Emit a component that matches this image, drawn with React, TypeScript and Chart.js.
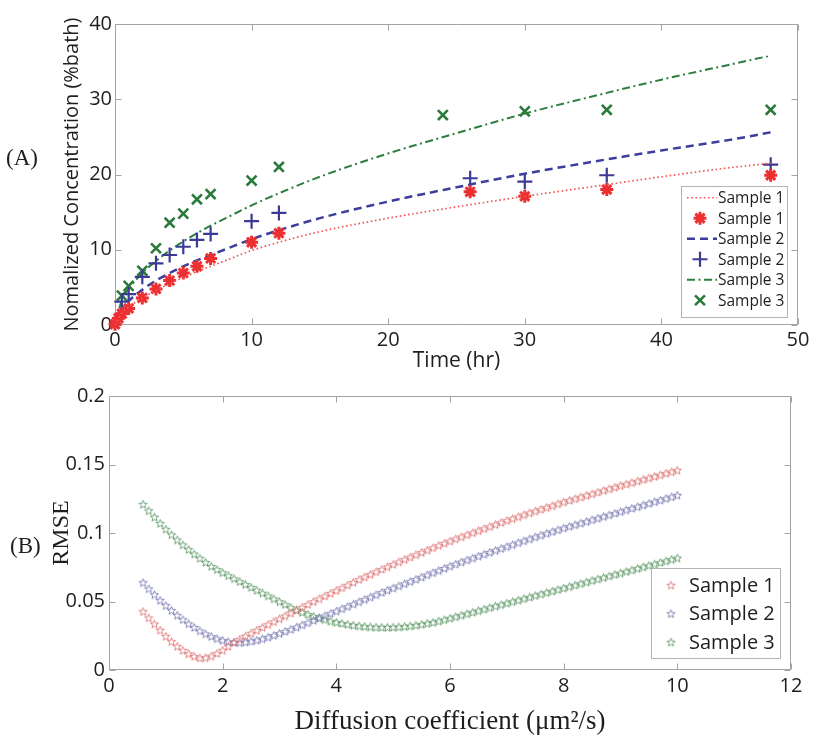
import React, { useEffect, useRef } from 'react';
import { Chart, registerables } from 'chart.js';
Chart.register(...registerables);

// ---------------- DATA: panel (A) ----------------
const fitTime = [0, 0.5, 1, 2, 3, 4, 5, 6, 7, 8, 10, 12, 15, 20, 25, 30, 35, 40, 45, 48];
const fitSample1 = [0, 1.6, 2.4, 3.6, 4.6, 5.5, 6.3, 7.1, 7.8, 8.5, 9.9, 11.0, 12.4, 14.2, 15.7, 17.1, 18.4, 19.7, 20.9, 21.5];
const fitSample2 = [0, 2.2, 3.2, 4.7, 5.9, 6.9, 7.8, 8.6, 9.3, 10.0, 11.4, 12.6, 14.2, 16.4, 18.3, 20.1, 21.7, 23.2, 24.6, 25.6];
const fitSample3 = [0, 3.3, 4.8, 6.9, 8.5, 9.9, 11.1, 12.2, 13.2, 14.1, 15.9, 17.5, 19.7, 22.8, 25.5, 28.1, 30.4, 32.6, 34.6, 35.8];

const timeSample1 = [0, 0.25, 0.5, 1, 2, 3, 4, 5, 6, 7, 10, 12, 26, 30, 36, 48];
const concSample1 = [0.1, 0.9, 1.5, 2.2, 3.6, 4.8, 5.9, 6.9, 7.8, 8.85, 11.0, 12.2, 17.7, 17.1, 18.0, 19.9];
const timeSample2 = [0.5, 1, 2, 3, 4, 5, 6, 7, 10, 12, 26, 30, 36, 48];
const concSample2 = [3.1, 4.1, 6.4, 8.2, 9.3, 10.4, 11.3, 12.1, 13.8, 14.9, 19.5, 19.05, 19.9, 21.3];
const timeSample3 = [0.5, 1, 2, 3, 4, 5, 6, 7, 10, 12, 24, 30, 36, 48];
const concSample3 = [3.9, 5.2, 7.2, 10.2, 13.6, 14.8, 16.7, 17.4, 19.2, 21.0, 27.9, 28.4, 28.6, 28.6];

// ---------------- DATA: panel (B) ----------------
const diffusion = [
  0.6, 0.7, 0.8, 0.9,
  1.0, 1.1, 1.2, 1.3, 1.4, 1.5, 1.6, 1.7, 1.8, 1.9,
  2.0, 2.1, 2.2, 2.3, 2.4, 2.5, 2.6, 2.7, 2.8, 2.9,
  3.0, 3.1, 3.2, 3.3, 3.4, 3.5, 3.6, 3.7, 3.8, 3.9,
  4.0, 4.1, 4.2, 4.3, 4.4, 4.5, 4.6, 4.7, 4.8, 4.9,
  5.0, 5.1, 5.2, 5.3, 5.4, 5.5, 5.6, 5.7, 5.8, 5.9,
  6.0, 6.1, 6.2, 6.3, 6.4, 6.5, 6.6, 6.7, 6.8, 6.9,
  7.0, 7.1, 7.2, 7.3, 7.4, 7.5, 7.6, 7.7, 7.8, 7.9,
  8.0, 8.1, 8.2, 8.3, 8.4, 8.5, 8.6, 8.7, 8.8, 8.9,
  9.0, 9.1, 9.2, 9.3, 9.4, 9.5, 9.6, 9.7, 9.8, 9.9,
  10.0,
];
const rmseSample1 = [
  0.0426, 0.0380, 0.0335, 0.0290,
  0.0245, 0.0207, 0.0172, 0.0143, 0.0118, 0.0099, 0.0087, 0.0089, 0.0101, 0.0120,
  0.0144, 0.0172, 0.0201, 0.0224, 0.0246, 0.0268, 0.0289, 0.0310, 0.0331, 0.0352,
  0.0373, 0.0394, 0.0415, 0.0436, 0.0457, 0.0478, 0.0499, 0.0519, 0.0539, 0.0559,
  0.0579, 0.0599, 0.0619, 0.0639, 0.0659, 0.0678, 0.0697, 0.0716, 0.0734, 0.0752,
  0.0770, 0.0788, 0.0806, 0.0823, 0.0840, 0.0857, 0.0874, 0.0891, 0.0908, 0.0924,
  0.0940, 0.0956, 0.0971, 0.0986, 0.1001, 0.1016, 0.1031, 0.1046, 0.1061, 0.1076,
  0.1090, 0.1104, 0.1118, 0.1132, 0.1146, 0.1159, 0.1172, 0.1185, 0.1198, 0.1212,
  0.1225, 0.1237, 0.1249, 0.1261, 0.1273, 0.1285, 0.1297, 0.1309, 0.1321, 0.1333,
  0.1345, 0.1356, 0.1367, 0.1378, 0.1390, 0.1401, 0.1412, 0.1423, 0.1435, 0.1446,
  0.1458,
];
const rmseSample2 = [
  0.0637, 0.0592, 0.0549, 0.0508,
  0.0470, 0.0434, 0.0399, 0.0367, 0.0337, 0.0310, 0.0285, 0.0263, 0.0244, 0.0228,
  0.0215, 0.0206, 0.0201, 0.0200, 0.0203, 0.0209, 0.0217, 0.0227, 0.0239, 0.0252,
  0.0266, 0.0281, 0.0296, 0.0312, 0.0328, 0.0344, 0.0361, 0.0378, 0.0395, 0.0412,
  0.0429, 0.0446, 0.0463, 0.0480, 0.0497, 0.0514, 0.0531, 0.0548, 0.0565, 0.0581,
  0.0597, 0.0613, 0.0629, 0.0645, 0.0661, 0.0677, 0.0693, 0.0709, 0.0725, 0.0741,
  0.0757, 0.0772, 0.0787, 0.0802, 0.0816, 0.0830, 0.0844, 0.0858, 0.0872, 0.0886,
  0.0900, 0.0914, 0.0928, 0.0942, 0.0956, 0.0970, 0.0983, 0.0996, 0.1009, 0.1022,
  0.1035, 0.1047, 0.1059, 0.1071, 0.1083, 0.1095, 0.1107, 0.1119, 0.1131, 0.1143,
  0.1155, 0.1167, 0.1179, 0.1191, 0.1203, 0.1215, 0.1227, 0.1239, 0.1251, 0.1263,
  0.1275,
];
const rmseSample3 = [
  0.1209, 0.1162, 0.1115, 0.1070,
  0.1027, 0.0987, 0.0949, 0.0913, 0.0879, 0.0846, 0.0815, 0.0785, 0.0756, 0.0733,
  0.0710, 0.0688, 0.0666, 0.0645, 0.0624, 0.0603, 0.0582, 0.0561, 0.0540, 0.0519,
  0.0498, 0.0477, 0.0456, 0.0436, 0.0420, 0.0405, 0.0391, 0.0379, 0.0367, 0.0356,
  0.0347, 0.0339, 0.0332, 0.0326, 0.0321, 0.0317, 0.0314, 0.0312, 0.0311, 0.0311,
  0.0312, 0.0314, 0.0317, 0.0321, 0.0326, 0.0332, 0.0339, 0.0347, 0.0356, 0.0366,
  0.0377, 0.0388, 0.0399, 0.0410, 0.0421, 0.0432, 0.0443, 0.0454, 0.0465, 0.0476,
  0.0487, 0.0498, 0.0509, 0.0520, 0.0531, 0.0542, 0.0553, 0.0564, 0.0575, 0.0586,
  0.0597, 0.0608, 0.0619, 0.0630, 0.0641, 0.0652, 0.0663, 0.0674, 0.0685, 0.0696,
  0.0707, 0.0718, 0.0729, 0.0740, 0.0751, 0.0762, 0.0773, 0.0784, 0.0795, 0.0806,
  0.0817,
];

const seriesLabels = ['Sample 1', 'Sample 2', 'Sample 3'];

// ---------------- STYLE ----------------
const SANS = '"Open Sans", "Noto Sans", sans-serif';
const SERIF = '"Liberation Serif", "Times New Roman", serif';
const TEXT = '#1e1e1e';
const FRAME = '#a3a3a3';

const pts = (xs: number[], ys: number[]) => xs.map((x, i) => ({ x, y: ys[i] }));
const trimNum = (v: any) => String(parseFloat(Number(v).toFixed(4)));

function makePentagram(color: string) {
  const c = document.createElement('canvas');
  c.width = 11;
  c.height = 11;
  const g = c.getContext('2d')!;
  g.strokeStyle = color;
  g.lineWidth = 0.9;
  g.beginPath();
  for (let i = 0; i < 10; i++) {
    const r = i % 2 === 0 ? 4.3 : 1.85;
    const a = -Math.PI / 2 + (i * Math.PI) / 5;
    const px = 5.5 + r * Math.cos(a);
    const py = 5.8 + r * Math.sin(a);
    if (i === 0) g.moveTo(px, py);
    else g.lineTo(px, py);
  }
  g.closePath();
  g.stroke();
  return c;
}

function drawMarker(ctx: CanvasRenderingContext2D, style: any, x: number, y: number, r: number, color: string, lw: number) {
  ctx.save();
  if (style && typeof style !== 'string') {
    ctx.drawImage(style, x - style.width / 2, y - style.height / 2);
    ctx.restore();
    return;
  }
  ctx.strokeStyle = color;
  ctx.lineWidth = lw;
  ctx.setLineDash([]);
  ctx.beginPath();
  if (style === 'cross' || style === 'star') {
    ctx.moveTo(x - r, y);
    ctx.lineTo(x + r, y);
    ctx.moveTo(x, y - r);
    ctx.lineTo(x, y + r);
  }
  if (style === 'crossRot' || style === 'star') {
    const d = r * Math.SQRT1_2;
    ctx.moveTo(x - d, y - d);
    ctx.lineTo(x + d, y + d);
    ctx.moveTo(x - d, y + d);
    ctx.lineTo(x + d, y - d);
  }
  ctx.stroke();
  ctx.restore();
}

function makeFramePlugin(tickLen: number) {
  return {
    id: 'frameTicks',
    beforeDatasetsDraw(chart: any) {
      const { ctx, chartArea } = chart;
      const { left, top, right, bottom } = chartArea;
      const xs = chart.scales.x;
      const ys = chart.scales.y;
      ctx.save();
      ctx.strokeStyle = FRAME;
      ctx.lineWidth = 1;
      ctx.beginPath();
      const L = Math.round(left) + 0.5, R = Math.round(right) - 0.5;
      const T = Math.round(top) + 0.5, B = Math.round(bottom) - 0.5;
      ctx.rect(L, T, R - L, B - T);
      xs.ticks.forEach((t: any) => {
        const px = Math.round(xs.getPixelForValue(t.value)) + 0.5;
        ctx.moveTo(px, B);
        ctx.lineTo(px, B - tickLen);
        ctx.moveTo(px, T);
        ctx.lineTo(px, T + tickLen);
      });
      ys.ticks.forEach((t: any) => {
        const py = Math.round(ys.getPixelForValue(t.value)) + 0.5;
        ctx.moveTo(L, py);
        ctx.lineTo(L + tickLen, py);
        ctx.moveTo(R, py);
        ctx.lineTo(R - tickLen, py);
      });
      ctx.stroke();
      ctx.restore();
    },
  };
}

function makeLegendPlugin(cfg: any) {
  return {
    id: 'boxLegend',
    afterDraw(chart: any) {
      const { ctx, chartArea } = chart;
      const n = cfg.items.length;
      const h = cfg.padTop + n * cfg.rowH + cfg.padBottom;
      const x0 = Math.round(chartArea.right - cfg.marginRight - cfg.width);
      const y0 = Math.round(chartArea.bottom - cfg.marginBottom - h);
      ctx.save();
      ctx.fillStyle = '#ffffff';
      ctx.fillRect(x0, y0, cfg.width, h);
      ctx.strokeStyle = '#b4b4b4';
      ctx.lineWidth = 1;
      ctx.strokeRect(x0 + 0.5, y0 + 0.5, cfg.width, Math.round(h));
      ctx.font = `${cfg.fontSize}px ${SANS}`;
      ctx.textBaseline = 'middle';
      ctx.textAlign = 'left';
      cfg.items.forEach((dsIndex: number, i: number) => {
        const ds = chart.data.datasets[dsIndex];
        const cy = y0 + cfg.padTop + cfg.rowH * (i + 0.5);
        if (ds.showLine) {
          ctx.save();
          ctx.strokeStyle = ds.borderColor;
          ctx.lineWidth = ds.borderWidth;
          ctx.setLineDash(ds.borderDash || []);
          ctx.beginPath();
          ctx.moveTo(x0 + cfg.lineX1, cy);
          ctx.lineTo(x0 + cfg.lineX2, cy);
          ctx.stroke();
          ctx.restore();
        } else {
          drawMarker(ctx, ds.pointStyle, x0 + cfg.markerX, cy, ds.pointRadius, ds.borderColor, ds.borderWidth);
        }
        ctx.fillStyle = TEXT;
        ctx.fillText(ds.label, x0 + cfg.textX, cy + 1);
      });
      ctx.restore();
    },
  };
}

function ChartA() {
  const ref = useRef<HTMLCanvasElement>(null);
  useEffect(() => {
    const RED = '#ec2f30', RED_L = '#f25656';
    const BLUE = '#3b3b95', BLUE_L = '#3d3d9c';
    const GREEN = '#2a7a3c', GREEN_L = '#2f7d40';
    const chart = new Chart(ref.current!, {
      type: 'scatter',
      data: {
        datasets: [
          { label: seriesLabels[0], data: pts(fitTime, fitSample1), showLine: true, borderColor: RED_L, borderWidth: 1.7, borderDash: [1.6, 2.6], pointRadius: 0, cubicInterpolationMode: 'monotone' } as any,
          { label: seriesLabels[0], data: pts(timeSample1, concSample1), pointStyle: 'star', pointRadius: 6.5, borderColor: RED, backgroundColor: RED, borderWidth: 3, clip: false } as any,
          { label: seriesLabels[1], data: pts(fitTime, fitSample2), showLine: true, borderColor: BLUE_L, borderWidth: 2.5, borderDash: [8, 5], pointRadius: 0, cubicInterpolationMode: 'monotone' } as any,
          { label: seriesLabels[1], data: pts(timeSample2, concSample2), pointStyle: 'cross', pointRadius: 7.5, borderColor: BLUE, backgroundColor: BLUE, borderWidth: 2.2, clip: false } as any,
          { label: seriesLabels[2], data: pts(fitTime, fitSample3), showLine: true, borderColor: GREEN_L, borderWidth: 2, borderDash: [8, 3.5, 2, 3.5], pointRadius: 0, cubicInterpolationMode: 'monotone' } as any,
          { label: seriesLabels[2], data: pts(timeSample3, concSample3), pointStyle: 'crossRot', pointRadius: 7, borderColor: GREEN, backgroundColor: GREEN, borderWidth: 2.6, clip: false } as any,
        ],
      },
      options: {
        animation: false,
        responsive: false,
        events: [],
        layout: { padding: { top: 24, right: 16, left: 0, bottom: 0 } },
        plugins: { legend: { display: false }, tooltip: { enabled: false } },
        scales: {
          x: {
            type: 'linear', min: 0, max: 50,
            grid: { display: false, drawTicks: false }, border: { display: false },
            ticks: { stepSize: 10, padding: 3, color: TEXT, font: { family: SANS, size: 20 }, maxRotation: 0 },
            title: { display: true, text: 'Time (hr)', color: TEXT, font: { family: SANS, size: 21 }, padding: 0 },
            afterFit: (s: any) => { s.height = 49; },
          },
          y: {
            type: 'linear', min: 0, max: 40,
            grid: { display: false, drawTicks: false }, border: { display: false },
            ticks: { stepSize: 10, padding: 3, color: TEXT, font: { family: SANS, size: 20 } },
            title: { display: true, text: 'Nomalized Concentration (%bath)', color: TEXT, font: { family: SANS, size: 20 }, padding: { top: 60, bottom: 0 } },
            afterFit: (s: any) => { s.width = 115; },
          },
        },
      } as any,
      plugins: [
        makeFramePlugin(6),
        makeLegendPlugin({ items: [0, 1, 2, 3, 4, 5], width: 106, rowH: 20.5, padTop: 1.5, padBottom: 6.5, marginRight: 11, marginBottom: 8, lineX1: 6, lineX2: 36, markerX: 19, textX: 37, fontSize: 15.5 }),
      ],
    });
    return () => chart.destroy();
  }, []);
  return <canvas ref={ref} width={814} height={374} style={{ position: 'absolute', left: 0, top: 0, display: 'block' }} />;
}

function ChartB() {
  const ref = useRef<HTMLCanvasElement>(null);
  useEffect(() => {
    const s1 = makePentagram('#e07474');
    const s2 = makePentagram('#7a7ab4');
    const s3 = makePentagram('#5f9a68');
    const chart = new Chart(ref.current!, {
      type: 'scatter',
      data: {
        datasets: [
          { label: seriesLabels[0], data: pts(diffusion, rmseSample1), pointStyle: s1, pointRadius: 4, borderColor: '#e07474', borderWidth: 1, clip: false } as any,
          { label: seriesLabels[1], data: pts(diffusion, rmseSample2), pointStyle: s2, pointRadius: 4, borderColor: '#7a7ab4', borderWidth: 1, clip: false } as any,
          { label: seriesLabels[2], data: pts(diffusion, rmseSample3), pointStyle: s3, pointRadius: 4, borderColor: '#5f9a68', borderWidth: 1, clip: false } as any,
        ],
      },
      options: {
        animation: false,
        responsive: false,
        events: [],
        layout: { padding: { top: 24, right: 23, left: 0, bottom: 0 } },
        plugins: { legend: { display: false }, tooltip: { enabled: false } },
        scales: {
          x: {
            type: 'linear', min: 0, max: 12,
            grid: { display: false, drawTicks: false }, border: { display: false },
            ticks: { stepSize: 2, padding: 4, color: TEXT, font: { family: SANS, size: 20 }, maxRotation: 0 },
            title: { display: true, text: 'Diffusion coefficient (μm²/s)', color: TEXT, font: { family: SERIF, size: 27 }, padding: { top: 0, bottom: 4 } },
            afterFit: (s: any) => { s.height = 72; },
          },
          y: {
            type: 'linear', min: 0, max: 0.2,
            grid: { display: false, drawTicks: false }, border: { display: false },
            ticks: { stepSize: 0.05, padding: 4, color: TEXT, font: { family: SANS, size: 20 }, callback: (v: any) => trimNum(v) },
            title: { display: true, text: 'RMSE', color: TEXT, font: { family: SERIF, size: 24 }, padding: { top: 47, bottom: 0 } },
            afterFit: (s: any) => { s.width = 109; },
          },
        },
      } as any,
      plugins: [
        makeFramePlugin(6),
        makeLegendPlugin({ items: [0, 1, 2], width: 129, rowH: 28.5, padTop: 3, padBottom: 1.5, marginRight: 11, marginBottom: 12, lineX1: 8, lineX2: 30, markerX: 20, textX: 38, fontSize: 20 }),
      ],
    });
    return () => chart.destroy();
  }, []);
  return <canvas ref={ref} width={814} height={370} style={{ position: 'absolute', left: 0, top: 372, display: 'block' }} />;
}

export default function App() {
  const panelLabel: React.CSSProperties = { position: 'absolute', fontFamily: SERIF, fontSize: 23, lineHeight: '23px', color: TEXT };
  return (
    <div style={{ position: 'absolute', left: 0, top: 0, width: 814, height: 742, background: '#fff', overflow: 'hidden' }}>
      <ChartA />
      <ChartB />
      <div style={{ ...panelLabel, left: 6, top: 146 }}>(A)</div>
      <div style={{ ...panelLabel, left: 10, top: 534 }}>(B)</div>
    </div>
  );
}
